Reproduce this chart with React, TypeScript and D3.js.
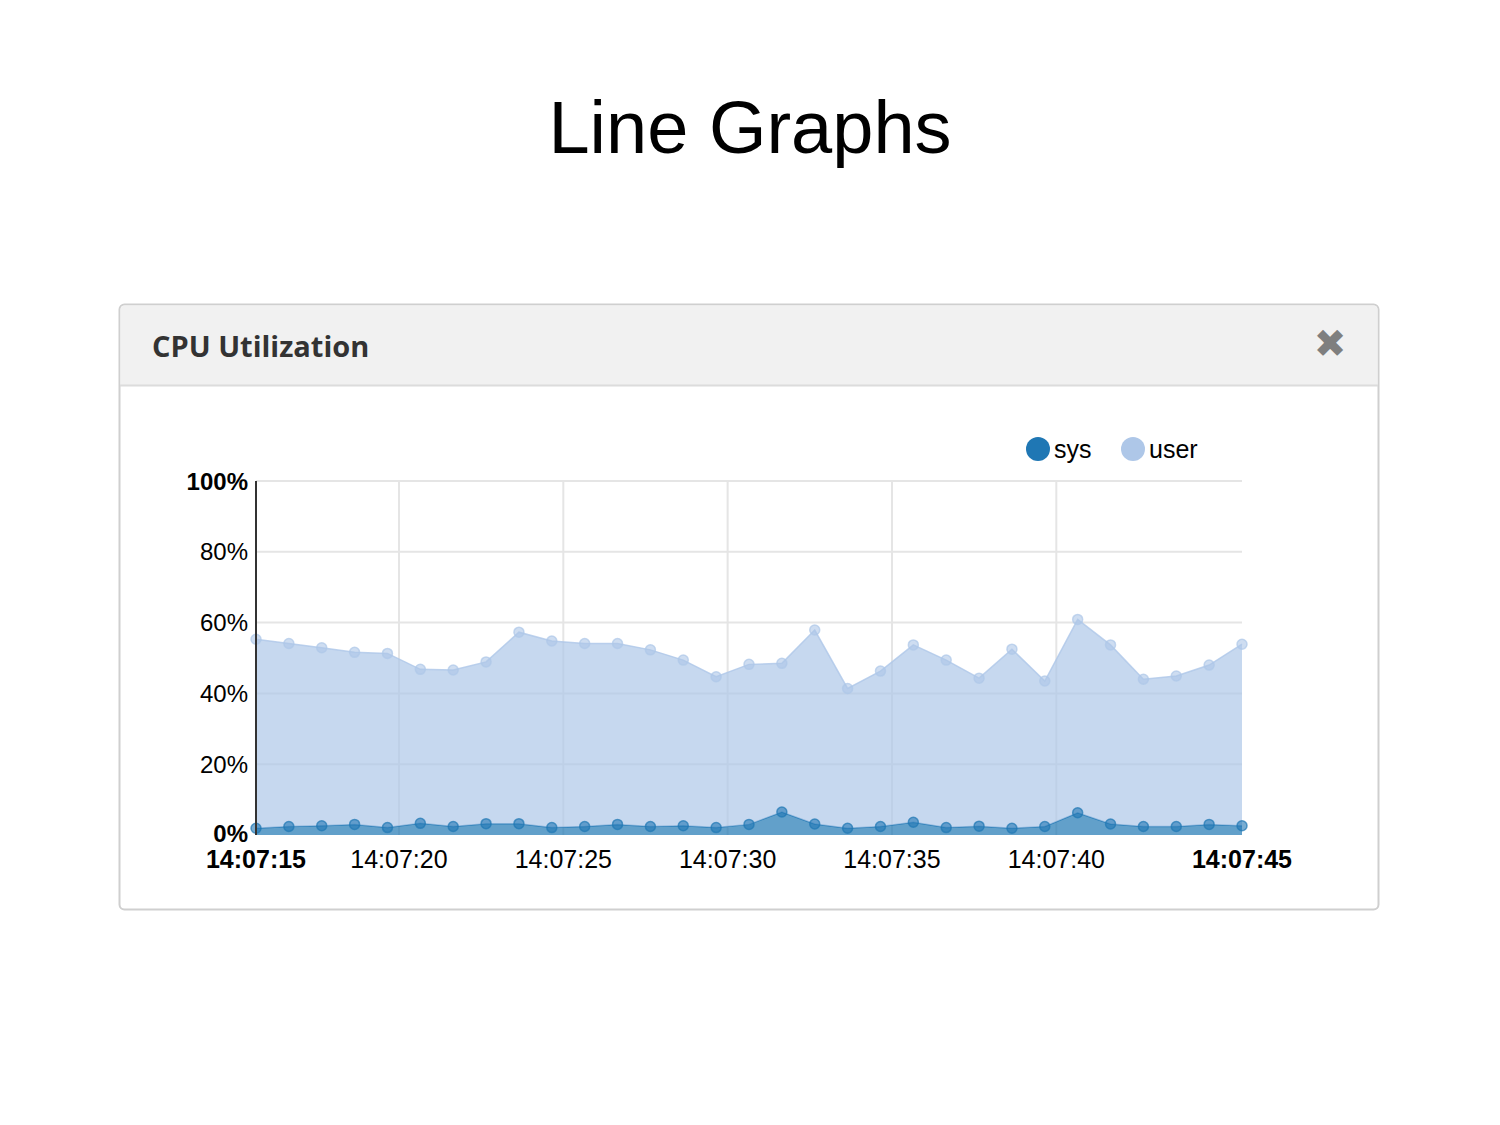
import React from "react";
import * as d3 from "d3";

const seriesKeys = ["sys", "user"];
const seriesColors = ["#1f77b4", "#aec7e8"];
const sysValues = [1.9, 2.4, 2.6, 3.0, 2.1, 3.3, 2.4, 3.2, 3.2, 2.1, 2.4, 3.0, 2.4, 2.6, 2.1, 3.0, 6.5, 3.1, 1.9, 2.4, 3.6, 2.1, 2.5, 1.9, 2.4, 6.3, 3.1, 2.4, 2.4, 3.0, 2.6];
const userValues = [53.4, 51.7, 50.3, 48.6, 49.2, 43.5, 44.2, 45.7, 54.1, 52.7, 51.7, 51.1, 49.9, 46.8, 42.6, 45.2, 42.0, 54.8, 39.5, 43.9, 50.1, 47.3, 41.8, 50.6, 41.1, 54.6, 50.6, 41.6, 42.5, 45.0, 51.3];
const startTime = new Date(2016, 0, 1, 14, 7, 15, 650);
const timeTickLabels = ["14:07:20", "14:07:25", "14:07:30", "14:07:35", "14:07:40"];
const yTicks = [0, 20, 40, 60, 80, 100];

const W = 1500, H = 1125;
const plot = { left: 256, right: 1242, top: 481, bottom: 835 };

export default function App() {
  const data = sysValues.map((s, i) => ({
    t: new Date(startTime.getTime() + i * 1000),
    sys: s,
    user: userValues[i],
  }));
  const endTime = data[data.length - 1].t;
  const x = d3.scaleTime().domain([startTime, endTime]).range([plot.left, plot.right]);
  const y = d3.scaleLinear().domain([0, 100]).range([plot.bottom, plot.top]);
  const stacked = d3.stack<any>().keys(seriesKeys)(data);
  const area = d3.area<any>()
    .x((d) => x(d.data.t))
    .y0((d) => y(d[0]))
    .y1((d) => y(d[1]));
  const line = d3.line<any>().x((d) => x(d.data.t)).y((d) => y(d[1]));
  const fmt = d3.timeFormat("%H:%M:%S");
  const parse = d3.timeParse("%H:%M:%S");
  const tickDates = timeTickLabels.map((s) => {
    const p = parse(s)!;
    return new Date(2016, 0, 1, p.getHours(), p.getMinutes(), p.getSeconds());
  });
  const font = "'Liberation Sans', Arial, sans-serif";

  return (
    <svg width={W} height={H} style={{ position: "absolute", left: 0, top: 0, background: "#fff" }}>
      <text x={750} y={153} textAnchor="middle" fontFamily={font} fontSize={74} fill="#000">Line Graphs</text>

      {/* panel */}
      <rect x={119.5} y={304.5} width={1259} height={605} rx={5} fill="#fff" stroke="#cfcfcf" strokeWidth={2} />
      <path d={`M120.5,385 L120.5,310 Q120.5,305.5 125,305.5 L1373,305.5 Q1377.5,305.5 1377.5,310 L1377.5,385 Z`} fill="#f1f1f1" />
      <line x1={120} x2={1378} y1={385.5} y2={385.5} stroke="#dcdcdc" strokeWidth={2} />
      <text x={152} y={357} fontFamily="'Open Sans', sans-serif" fontWeight={700} fontSize={29} fill="#333">CPU Utilization</text>
      <text x={1330} y={357} textAnchor="middle" fontFamily="'DejaVu Sans', sans-serif" fontWeight={700} fontSize={39} fill="#7f7f7f">✖</text>

      {/* legend */}
      {seriesKeys.map((k, i) => (
        <g key={k} transform={`translate(${[1038, 1133][i]},449)`}>
          <circle r={12} fill={seriesColors[i]} />
          <text x={16} y={9} fontFamily={font} fontSize={25} fill="#000">{k}</text>
        </g>
      ))}

      {/* grid */}
      {yTicks.filter((v) => v > 0).map((v) => (
        <line key={v} x1={plot.left} x2={plot.right} y1={y(v)} y2={y(v)} stroke="#e5e5e5" strokeWidth={2} />
      ))}
      {tickDates.map((d, i) => (
        <line key={i} x1={x(d)} x2={x(d)} y1={plot.top} y2={plot.bottom} stroke="#e5e5e5" strokeWidth={2} />
      ))}

      {/* areas */}
      {stacked.map((s, i) => (
        <g key={s.key}>
          <path d={area(s) || ""} fill={seriesColors[i]} fillOpacity={0.7} />
          <path d={line(s) || ""} fill="none" stroke={seriesColors[i]} strokeWidth={1.5} strokeOpacity={0.8} />
        </g>
      ))}
      {stacked.map((s, i) => (
        <g key={s.key + "p"}>
          {s.map((d, j) => (
            <circle key={j} cx={x(d.data.t)} cy={y(d[1])} r={5} fill={seriesColors[i]} fillOpacity={0.6} stroke={seriesColors[i]} strokeWidth={1.5} strokeOpacity={0.7} />
          ))}
        </g>
      ))}

      {/* y axis */}
      <line x1={plot.left} x2={plot.left} y1={plot.top} y2={plot.bottom} stroke="#333" strokeWidth={2} />
      {yTicks.map((v) => (
        <text key={v} x={248} y={y(v) + (v === 0 ? 7 : 8.5)} textAnchor="end" fontFamily={font} fontSize={24}
          fontWeight={v === 0 || v === 100 ? 700 : 400} fill="#000">{v}%</text>
      ))}

      {/* x axis */}
      {tickDates.map((d, i) => (
        <text key={i} x={x(d)} y={868} textAnchor="middle" fontFamily={font} fontSize={25} fill="#000">{fmt(d)}</text>
      ))}
      {[startTime, endTime].map((d, i) => (
        <text key={"e" + i} x={x(d)} y={868} textAnchor="middle" fontFamily={font} fontSize={25} fontWeight={700} fill="#000">{fmt(d)}</text>
      ))}
    </svg>
  );
}
